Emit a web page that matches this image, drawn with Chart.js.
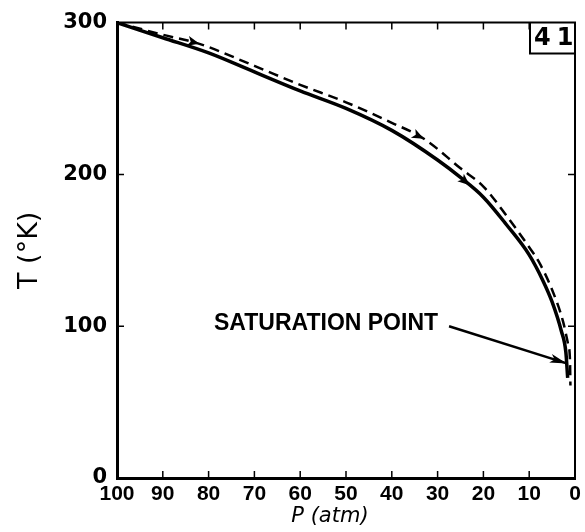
<!DOCTYPE html>
<html>
<head>
<meta charset="utf-8">
<script src="https://cdn.jsdelivr.net/npm/chart.js@4.4.1/dist/chart.umd.min.js"></script>
<style>
  html, body { margin: 0; padding: 0; background: #fff; }
  #wrap { width: 585px; height: 532px; }
</style>
</head>
<body>
<div id="wrap"><canvas id="chart" width="585" height="532"></canvas></div>
<script>
// --- Data ---
const pressureTicks = [100, 90, 80, 70, 60, 50, 40, 30, 20, 10, 0];
const tempTicks = [0, 100, 200, 300];

// solid curve
const solidP = [100, 90, 80, 70, 60, 50, 40, 30, 25, 20, 15, 10, 7, 5, 3, 2, 1.6];
const solidT = [300, 290, 280, 267.5, 255, 243.5, 229, 209.5, 198, 185, 167, 147, 130, 116, 97, 83, 66];

// dashed curve
const dashedP = [100, 90, 82, 70, 60, 50, 40, 33, 25, 20, 15, 10, 8, 5, 2.6, 1.5, 1.1, 1.0];
const dashedT = [300, 292, 286, 271.5, 259, 247.5, 234, 223.5, 204, 192, 173, 152, 143, 124, 103, 88, 78, 61];

// flow arrows sit at these pressures
const solidArrowP = [23];
const dashedArrowP = [82, 33];

// saturation point note (P, T)
const satText = 'SATURATION POINT';
const satFrom = [27.5, 100];
const satTo = [1.8, 75.5];

const figNumber = '41';

function toXY(ps, ts) {
    return ps.map((p, i) => ({ x: p, y: ts[i] }));
}

function tempAt(ps, ts, p) {
    for (let i = 0; i < ps.length - 1; i++) {
        if (p <= ps[i] && p >= ps[i + 1]) {
            const f = (ps[i] - p) / (ps[i] - ps[i + 1]);
            return ts[i] + f * (ts[i + 1] - ts[i]);
        }
    }
    return ts[ts.length - 1];
}

function arrowHead(ctx, x, y, ang, len, half) {
    ctx.save();
    ctx.translate(x, y);
    ctx.rotate(ang);
    ctx.beginPath();
    ctx.moveTo(0, 0);
    ctx.lineTo(-len, -half);
    ctx.lineTo(-len * 0.75, 0);
    ctx.lineTo(-len, half);
    ctx.closePath();
    ctx.fill();
    ctx.restore();
}

// --- extras drawn on top: frame, inward ticks, arrows, notes ---
const extrasPlugin = {
    id: 'extras',
    afterDatasetsDraw(chart) {
        const ctx = chart.ctx;
        const xs = chart.scales.x, ys = chart.scales.y;
        const a = chart.chartArea;
        ctx.save();
        ctx.strokeStyle = '#000';
        ctx.fillStyle = '#000';

        // top and right frame
        ctx.lineWidth = 2;
        ctx.beginPath();
        ctx.moveTo(a.left, a.top);
        ctx.lineTo(a.right, a.top);
        ctx.lineTo(a.right, a.bottom);
        ctx.stroke();

        // inward tick marks
        ctx.lineWidth = 1.5;
        pressureTicks.forEach(p => {
            if (p === 0 || p === 100) return;
            const x = xs.getPixelForValue(p);
            ctx.beginPath();
            ctx.moveTo(x, a.bottom); ctx.lineTo(x, a.bottom - 7);
            ctx.moveTo(x, a.top); ctx.lineTo(x, a.top + 7);
            ctx.stroke();
        });
        tempTicks.forEach(t => {
            if (t === 0 || t === 300) return;
            const y = ys.getPixelForValue(t);
            ctx.beginPath();
            ctx.moveTo(a.left, y); ctx.lineTo(a.left + 7, y);
            ctx.moveTo(a.right, y); ctx.lineTo(a.right - 7, y);
            ctx.stroke();
        });

        // flow arrows along the curves
        const curveArrow = (ps, ts, p) => {
            const x0 = xs.getPixelForValue(p + 1.5), y0 = ys.getPixelForValue(tempAt(ps, ts, p + 1.5));
            const x1 = xs.getPixelForValue(p), y1 = ys.getPixelForValue(tempAt(ps, ts, p));
            arrowHead(ctx, x1, y1, Math.atan2(y1 - y0, x1 - x0), 12, 5);
        };
        solidArrowP.forEach(p => curveArrow(solidP, solidT, p));
        dashedArrowP.forEach(p => curveArrow(dashedP, dashedT, p));

        // saturation point note
        const fx = xs.getPixelForValue(satFrom[0]), fy = ys.getPixelForValue(satFrom[1]);
        const tx = xs.getPixelForValue(satTo[0]), ty = ys.getPixelForValue(satTo[1]);
        ctx.lineWidth = 2.5;
        ctx.beginPath();
        ctx.moveTo(fx, fy);
        ctx.lineTo(tx, ty);
        ctx.stroke();
        arrowHead(ctx, tx, ty, Math.atan2(ty - fy, tx - fx), 17, 4.5);
        ctx.font = "bold 23px 'Liberation Sans'";
        ctx.textAlign = 'right';
        ctx.textBaseline = 'alphabetic';
        ctx.fillText(satText, fx - 11, fy + 4);

        // figure number box
        const bx = a.right - 45, by = a.top + 31;
        ctx.lineWidth = 2;
        ctx.beginPath();
        ctx.moveTo(bx, a.top);
        ctx.lineTo(bx, by);
        ctx.lineTo(a.right, by);
        ctx.stroke();
        ctx.font = "bold 24px 'DejaVu Sans'";
        ctx.textAlign = 'left';
        ctx.textBaseline = 'middle';
        ctx.letterSpacing = '6px';
        ctx.fillText(figNumber, bx + 4, a.top + 16);
        ctx.letterSpacing = '0px';

        // x axis title
        ctx.font = "oblique 21px 'DejaVu Sans'";
        ctx.textAlign = 'center';
        ctx.textBaseline = 'middle';
        ctx.fillText('P (atm)', xs.getPixelForValue(53.5), 517);

        ctx.restore();
    }
};

new Chart(document.getElementById('chart'), {
    type: 'line',
    data: {
        datasets: [
            {
                data: toXY(solidP, solidT),
                borderColor: '#000',
                borderWidth: 3.5,
                pointRadius: 0,
                cubicInterpolationMode: 'monotone',
                fill: false
            },
            {
                data: toXY(dashedP, dashedT),
                borderColor: '#000',
                borderWidth: 2.5,
                borderDash: [10, 6],
                pointRadius: 0,
                cubicInterpolationMode: 'monotone',
                fill: false
            }
        ]
    },
    options: {
        responsive: false,
        animation: false,
        layout: { padding: { top: 14, right: 10, left: 0, bottom: 0 } },
        plugins: { legend: { display: false }, tooltip: { enabled: false } },
        scales: {
            x: {
                type: 'linear',
                reverse: true,
                min: 0,
                max: 100,
                afterBuildTicks: s => { s.ticks = pressureTicks.map(v => ({ value: v })); },
                ticks: {
                    color: '#000',
                    font: { family: "'Liberation Sans', Arial, sans-serif", size: 21, weight: 'bold' },
                    padding: 4,
                    maxRotation: 0,
                    autoSkip: false
                },
                grid: { display: false, drawTicks: false },
                border: { display: true, color: '#000', width: 3 },
                afterFit: s => { s.height = 54; }
            },
            y: {
                min: 0,
                max: 300,
                afterBuildTicks: s => { s.ticks = tempTicks.map(v => ({ value: v })); },
                ticks: {
                    color: '#000',
                    font: { family: "'DejaVu Sans'", size: 21, weight: 'bold' },
                    padding: 10
                },
                grid: { display: false, drawTicks: false },
                border: { display: true, color: '#000', width: 3 },
                title: {
                    display: true,
                    text: 'T (°K)',
                    color: '#000',
                    font: { family: "'DejaVu Sans'", size: 27 },
                    padding: { top: 14, bottom: 0 }
                },
                afterFit: s => { s.width = 117; }
            }
        }
    },
    plugins: [extrasPlugin]
});
</script>
</body>
</html>
